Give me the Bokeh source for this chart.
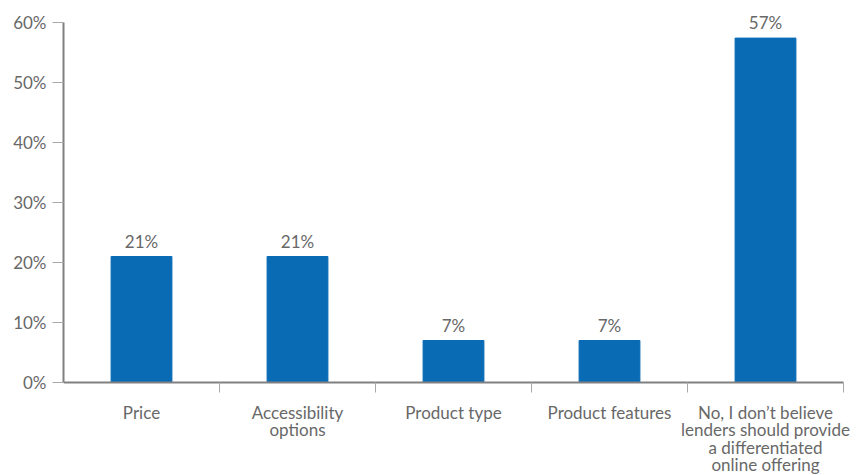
from bokeh.plotting import figure
from bokeh.models import ColumnDataSource, FixedTicker, Range1d, LabelSet, PrintfTickFormatter
from bokeh.core.properties import value
from bokeh.embed import file_html
from bokeh.resources import INLINE

categories = ["Price", "Accessibility\noptions", "Product type", "Product features",
              "No, I don\u2019t believe\nlenders should provide\na differentiated\nonline offering"]
values = [21, 21, 7, 7, 57.4]
value_labels = ["21%", "21%", "7%", "7%", "57%"]
y_ticks = [0, 10, 20, 30, 40, 50, 60]

positions = list(range(1, len(categories) + 1))
boundaries = [p + 0.5 for p in positions]

FONT = "Lato"
GRAY = "#686868"
BLUE = "#0A6BB5"
FS = "17px"
LINE_STEP = 17.5    # px between label lines
FIRST_BASE = 36     # px from axis to first baseline

src = ColumnDataSource(dict(x=positions, top=values, lab=value_labels))

# one row per label line so every line is centred on its category
lx, ltxt, loff = [], [], []
for pos, cat in zip(positions, categories):
    for i, line in enumerate(cat.split("\n")):
        lx.append(pos)
        ltxt.append(line)
        loff.append(-(FIRST_BASE + i * LINE_STEP))
lsrc = ColumnDataSource(dict(x=lx, y=[0] * len(lx), txt=ltxt, off=loff))

p = figure(width=861, height=475, output_backend="svg", toolbar_location=None,
           x_range=Range1d(0.5, 0.5 + 798 / 156), y_range=Range1d(-93 / 6, 382 / 6),
           min_border_left=63, min_border_right=0, min_border_top=0, min_border_bottom=0)
p.outline_line_color = None
p.xgrid.visible = False
p.ygrid.visible = False
p.background_fill_color = "white"
p.border_fill_color = "white"

p.vbar(x="x", top="top", width=0.39, source=src, color=BLUE)

labels = LabelSet(x="x", y="top", text="lab", source=src, text_align="center",
                  text_baseline="alphabetic", y_offset=9, text_font=value(FONT),
                  text_font_size=FS, text_color=GRAY)
p.add_layout(labels)

cat_labels = LabelSet(x="x", y="y", text="txt", source=lsrc, text_align="center",
                      text_baseline="alphabetic", y_offset="off", text_font=value(FONT),
                      text_font_size=FS, text_color=GRAY)
p.add_layout(cat_labels)

# y axis
ya = p.yaxis[0]
ya.ticker = FixedTicker(ticks=y_ticks)
ya.bounds = (0, 60)
ya.formatter = PrintfTickFormatter(format="%d%%")
ya.axis_line_color = "#808080"
ya.axis_line_width = 2
ya.major_tick_line_color = "#a8a8a8"
ya.major_tick_in = 0
ya.major_tick_out = 11
ya.minor_tick_line_color = None
ya.major_label_standoff = 6
ya.major_label_text_font = FONT
ya.major_label_text_font_size = FS
ya.major_label_text_color = GRAY

# x axis (only line and category separators), drawn at y = 0
xa = p.xaxis[0]
xa.fixed_location = 0
xa.bounds = (0.5, 5.5)
xa.ticker = FixedTicker(ticks=[], minor_ticks=boundaries)
xa.axis_line_color = "#808080"
xa.axis_line_width = 2
xa.major_tick_line_color = None
xa.major_label_text_font_size = "0px"
xa.minor_tick_line_color = "#a8a8a8"
xa.minor_tick_in = 0
xa.minor_tick_out = 10

open("out.html", "w").write(file_html(p, INLINE))
